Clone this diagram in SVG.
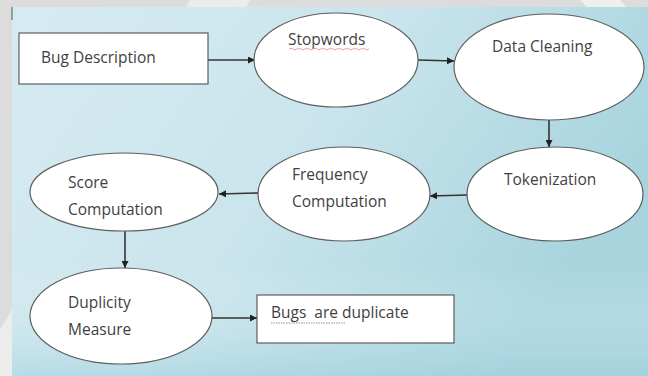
<svg xmlns="http://www.w3.org/2000/svg" width="648" height="376" viewBox="0 0 648 376">
<defs>
<linearGradient id="bg" x1="0" y1="0" x2="1" y2="0.4">
<stop offset="0" stop-color="#d6ebf1"/>
<stop offset="0.5" stop-color="#cbe5ed"/>
<stop offset="1" stop-color="#a8d4de"/>
</linearGradient>
<linearGradient id="bg2" x1="0" y1="0" x2="0" y2="1">
<stop offset="0" stop-color="#ffffff" stop-opacity="0"/>
<stop offset="0.7" stop-color="#ffffff" stop-opacity="0"/>
<stop offset="1" stop-color="#9fd0dc" stop-opacity="0.5"/>
</linearGradient>
<marker id="ah" viewBox="0 0 10 10" refX="10" refY="5" markerWidth="7" markerHeight="7" markerUnits="userSpaceOnUse" orient="auto">
<path d="M0,0 L10,5 L0,10 z" fill="#222"/>
</marker>
<style>
.n{fill:#fff;stroke:#5e5e5e;stroke-width:1.2}
.t{font-family:"Open Sans","Liberation Sans",sans-serif;font-size:15.5px;fill:#3f3f3f}
.c{stroke:#333;stroke-width:1.6;fill:none;marker-end:url(#ah)}
</style>
</defs>
<rect width="648" height="376" fill="#dcdcdc"/>
<polygon points="190,0 250,0 60,376 0,376 0,330" fill="#ececec"/>
<polygon points="580,0 620,0 648,30 648,70" fill="#efefef"/>
<rect x="12" y="7" width="636" height="369" fill="url(#bg)"/>
<rect x="12" y="7" width="636" height="369" fill="url(#bg2)"/>
<line x1="12" y1="7" x2="12" y2="20" stroke="#555" stroke-width="1"/>
<g id="connectors">
<line class="c" x1="208" y1="60" x2="255" y2="60"/>
<line class="c" x1="418" y1="60" x2="454" y2="61"/>
<line class="c" x1="549" y1="120" x2="549" y2="147"/>
<line class="c" x1="467" y1="195" x2="430" y2="196"/>
<line class="c" x1="258" y1="193" x2="219" y2="194"/>
<line class="c" x1="125" y1="231" x2="125" y2="268"/>
<line class="c" x1="212" y1="318" x2="257" y2="318"/>
</g>
<g id="bug-description">
<rect class="n" x="19" y="33" width="189" height="51"/>
<text class="t" x="41" y="63">Bug Description</text>
</g>
<g id="stopwords">
<ellipse class="n" cx="336" cy="60" rx="82" ry="47"/>
<text class="t" x="288" y="45">Stopwords</text>
<path d="M289,49 q2,-1.5 4,0 t4,0 t4,0 t4,0 t4,0 t4,0 t4,0 t4,0 t4,0 t4,0 t4,0 t4,0 t4,0 t4,0 t4,0 t4,0 t4,0 t4,0 t4,0 t4,0" fill="none" stroke="#e08a8a" stroke-width="0.8"/>
</g>
<g id="data-cleaning">
<ellipse class="n" cx="549" cy="67" rx="95" ry="53"/>
<text class="t" x="492" y="52">Data Cleaning</text>
</g>
<g id="tokenization">
<ellipse class="n" cx="555" cy="194" rx="88" ry="47"/>
<text class="t" x="504" y="185">Tokenization</text>
</g>
<g id="frequency-computation">
<ellipse class="n" cx="344" cy="194" rx="86" ry="47"/>
<text class="t" x="292" y="180">Frequency</text>
<text class="t" x="292" y="207">Computation</text>
</g>
<g id="score-computation">
<ellipse class="n" cx="124" cy="192" rx="94" ry="39"/>
<text class="t" x="68" y="188">Score</text>
<text class="t" x="68" y="215">Computation</text>
</g>
<g id="duplicity-measure">
<ellipse class="n" cx="121" cy="316" rx="91" ry="48"/>
<text class="t" x="68" y="308">Duplicity</text>
<text class="t" x="68" y="335">Measure</text>
</g>
<g id="bugs-are-duplicate">
<rect class="n" x="257" y="295" width="197" height="48"/>
<text class="t" x="271" y="318" xml:space="preserve">Bugs  are duplicate</text>
<line x1="271" y1="323" x2="346" y2="323" stroke="#777" stroke-width="0.8" stroke-dasharray="1.5,1"/>
</g>
</svg>
